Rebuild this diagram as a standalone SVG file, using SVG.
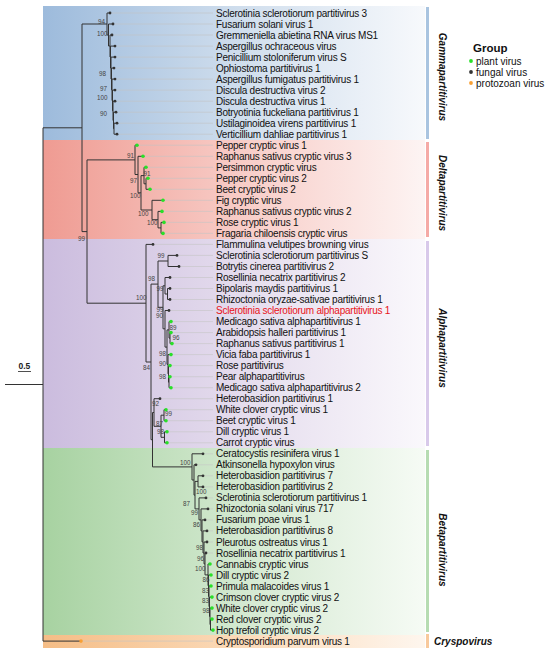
<svg xmlns="http://www.w3.org/2000/svg" width="550" height="652" viewBox="0 0 550 652">
<defs>
<linearGradient id="gGam" x1="0" x2="1" y1="0" y2="0"><stop offset="0" stop-color="#9dbbdc"/><stop offset="0.55" stop-color="#d3e0ee"/><stop offset="1" stop-color="#f7f9fc"/></linearGradient>
<linearGradient id="gDel" x1="0" x2="1" y1="0" y2="0"><stop offset="0" stop-color="#ef9b92"/><stop offset="0.55" stop-color="#f8cfca"/><stop offset="1" stop-color="#fdf4f3"/></linearGradient>
<linearGradient id="gAlp" x1="0" x2="1" y1="0" y2="0"><stop offset="0" stop-color="#cbbcde"/><stop offset="0.55" stop-color="#e6deee"/><stop offset="1" stop-color="#faf8fc"/></linearGradient>
<linearGradient id="gBet" x1="0" x2="1" y1="0" y2="0"><stop offset="0" stop-color="#a7d2a1"/><stop offset="0.55" stop-color="#d6ead3"/><stop offset="1" stop-color="#f6fbf5"/></linearGradient>
<linearGradient id="gCry" x1="0" x2="1" y1="0" y2="0"><stop offset="0" stop-color="#f5bd86"/><stop offset="0.55" stop-color="#fbdcbc"/><stop offset="1" stop-color="#fef6ee"/></linearGradient>
</defs>
<style>
.t{font-family:"Liberation Sans",Arial,sans-serif;font-size:10px;letter-spacing:-0.25px;fill:#111}
.red{fill:#e8141a}
.bs{font-family:"Liberation Sans",Arial,sans-serif;font-size:6.3px;fill:#444}
.br{fill:none;stroke:#333;stroke-width:1}
.ld{fill:none;stroke:#c4c4c4;stroke-width:0.6}
.pl{fill:#29e029}
.fu{fill:#333}
.pr{fill:#f8a035}
.cl{font-family:"Liberation Sans",Arial,sans-serif;font-size:10px;font-weight:bold;font-style:italic;fill:#111}
.lg{font-family:"Liberation Sans",Arial,sans-serif;font-size:10px;fill:#111}
</style>
<rect width="550" height="652" fill="#fff"/>
<g id="bands">
<rect x="43" y="6" width="382" height="134" fill="url(#gGam)"/>
<rect x="43" y="140" width="382" height="99" fill="url(#gDel)"/>
<rect x="43" y="239" width="382" height="209" fill="url(#gAlp)"/>
<rect x="43" y="448" width="382" height="187" fill="url(#gBet)"/>
<rect x="43" y="635" width="382" height="13" fill="url(#gCry)"/>
</g>
<g id="clade-bars">
<rect x="426" y="7" width="3" height="132" fill="#a9c4e0"/>
<rect x="426" y="142" width="3" height="95" fill="#f5aaa6"/>
<rect x="426" y="241" width="3" height="205" fill="#d8c9ea"/>
<rect x="426" y="450" width="3" height="182" fill="#b6dcb2"/>
<rect x="426" y="634" width="3" height="14" fill="#f8c99c"/>
</g>
<g id="clade-labels">
<text class="cl" text-anchor="middle" transform="translate(438.5,77) rotate(90)">Gammapartitivirus</text>
<text class="cl" text-anchor="middle" transform="translate(438.5,193) rotate(90)">Deltapartitivirus</text>
<text class="cl" text-anchor="middle" transform="translate(438.5,348) rotate(90)">Alphapartitivirus</text>
<text class="cl" text-anchor="middle" transform="translate(438.5,550) rotate(90)">Betapartitivirus</text>
<text class="cl" x="434" y="644.6">Cryspovirus</text>
</g>
<g id="connectors">
<path class="ld" d="M111.5,13H213M114.5,24H213M113.5,35H213M116.5,46.1H213M116.5,57.1H213M115.5,68.1H213M116.5,79.1H213M116.5,90.1H213M116.5,101.2H213M117.5,112.2H213M118.5,123.2H213M118.5,134.2H213M138.5,145.2H213M144.5,156.3H213M147.5,167.3H213M149.5,178.3H213M151.5,189.3H213M164.5,200.3H213M163.5,211.4H213M165.5,222.4H213M164.5,233.4H213M154.5,244.4H213M178.5,255.4H213M180.5,266.5H213M171.5,277.5H213M171.5,288.5H213M171.5,299.5H213M170.5,310.5H213M172.5,321.6H213M172.5,332.6H213M173.5,343.6H213M172.5,354.6H213M171.5,365.6H213M171.5,376.7H213M172.5,387.7H213M161.5,398.7H213M167.5,409.7H213M167.5,420.7H213M168.5,431.8H213M168.5,442.8H213M204.5,453.8H213M197.5,464.8H213M204.5,475.8H213M204.5,486.9H213M207.5,497.9H213M209.5,508.9H213M206.5,519.9H213M208.5,530.9H213M208.5,542H213M207.5,553H213M82.5,641.1H213"/>
<path id="root-branches" class="br" d="M5,384.5H43M43,127.8V641.1M43,127.8H82M43,641.1H81M82,24V231.6M82,231.6H87M87,159.9V303.2M87,159.9H135M87,303.2H146"/>
<path id="gamma-branches" class="br" d="M82,24H107M107,13V35M107,13H110M107,35H108.5M108.5,24V46M108.5,24H113M108.5,46H110M110,35V57M110,35H112M110,57H110.5M110.5,46.1V68M110.5,46.1H115M110.5,68H111M111,57.1V79M111,57.1H115M111,79H111.5M111.5,68.1V89.8M111.5,68.1H114M111.5,89.8H112M112,79.1V100.5M112,79.1H115M112,100.5H112.5M112.5,90.1V110.8M112.5,90.1H115M112.5,110.8H113M113,101.2V120.5M113,101.2H115M113,120.5H113.5M113.5,112.2V128.7M113.5,112.2H116M113.5,128.7H114M114,123.2V134.2M114,123.2H117M114,134.2H117"/>
<path id="delta-branches" class="br" d="M135,145.2V174.5M135,145.2H137M135,174.5H138M138,156.3V192.8M138,156.3H143M138,192.8H141M141,175.6V210M141,175.6H144M141,210H152M144,167.3V183.8M144,167.3H146M144,183.8H146M146,178.3V189.3M146,178.3H148M146,189.3H150M152,200.3V219.7M152,200.3H163M152,219.7H158M158,211.4V227.9M158,211.4H162M158,227.9H161M161,222.4V233.4M161,222.4H164M161,233.4H163"/>
<path id="alpha-branches" class="br" d="M146,244.4V362M146,244.4H153M146,362H151M151,284.1V439.7M151,284.1H158M151,439.7H152.5M152.5,412.5V466.9M152.5,412.5H154M152.5,466.9H192M158,261V307.3M158,261H168M158,307.3H163M168,255.4V266.5M168,255.4H177M168,266.5H179M163,285.8V328.8M163,285.8H165M163,328.8H165M165,277.5V294M165,277.5H170M165,294H167.5M167.5,288.5V299.5M167.5,288.5H170M167.5,299.5H170M165,310.5V347.1M165,310.5H169M165,347.1H167M167,329.9V364.3M167,329.9H169M167,364.3H168M169,321.6V338.1M169,321.6H171M169,338.1H170M170,332.6V343.6M170,332.6H171M170,343.6H172M168,354.6V373.9M168,354.6H171M168,373.9H168.5M168.5,365.6V382.2M168.5,365.6H170M168.5,382.2H169M169,376.7V387.7M169,376.7H170M169,387.7H171M154,398.7V426.3M154,398.7H160M154,426.3H161M161,415.2V437.3M161,415.2H164M161,437.3H164.5M164,409.7V420.7M164,409.7H166M164,420.7H166M164.5,431.8V442.8M164.5,431.8H167M164.5,442.8H167"/>
<path id="beta-branches" class="br" d="M192,453.8V480M192,453.8H203M192,480H194M194,464.8V495.1M194,464.8H196M194,495.1H195M195,481.4V508.9M195,481.4H198M195,508.9H199M198,475.8V486.9M198,475.8H203M198,486.9H203M199,497.9V519.9M199,497.9H206M199,519.9H201M201,508.9V530.9M201,508.9H208M201,530.9H202M202,519.9V541.9M202,519.9H205M202,541.9H203M203,530.9V553M203,530.9H207M203,553H204M204,542V563.9M204,542H207M204,563.9H205M205,553V574.9M205,553H206M205,574.9H208M208,564V585.7M208,564H210M208,585.7H208.5M208.5,575V596.4M208.5,575H211M208.5,596.4H209M209,586V606.7M209,586H211M209,606.7H209.5M209.5,597.1V616.4M209.5,597.1H212M209.5,616.4H210M210,608.1V624.6M210,608.1H212M210,624.6H210.5M210.5,619.1V630.1M210.5,619.1H212M210.5,630.1H213"/>
</g>
<g id="bootstrap">
<text class="bs" x="98" y="23.5">94</text>
<text class="bs" x="97" y="35.5">100</text>
<text class="bs" x="99" y="75.5">98</text>
<text class="bs" x="100" y="90.5">97</text>
<text class="bs" x="97" y="99.5">100</text>
<text class="bs" x="100" y="115.5">90</text>
<text class="bs" x="127" y="157.5">91</text>
<text class="bs" x="143.5" y="175.5">91</text>
<text class="bs" x="130" y="182.5">97</text>
<text class="bs" x="130" y="197.5">100</text>
<text class="bs" x="138" y="215.5">100</text>
<text class="bs" x="147" y="224.5">100</text>
<text class="bs" x="78" y="240.5">99</text>
<text class="bs" x="136" y="299.5">100</text>
<text class="bs" x="157.5" y="257.5">99</text>
<text class="bs" x="148" y="281">98</text>
<text class="bs" x="156.5" y="291">99</text>
<text class="bs" x="156.5" y="312">99</text>
<text class="bs" x="156" y="318">90</text>
<text class="bs" x="169.5" y="329.5">89</text>
<text class="bs" x="172.5" y="339.5">96</text>
<text class="bs" x="159" y="355.5">98</text>
<text class="bs" x="159" y="366.3">90</text>
<text class="bs" x="159" y="378.5">98</text>
<text class="bs" x="143" y="369.5">84</text>
<text class="bs" x="152" y="406">92</text>
<text class="bs" x="165" y="416.3">99</text>
<text class="bs" x="156" y="426.3">87</text>
<text class="bs" x="157" y="434.3">98</text>
<text class="bs" x="180" y="465">100</text>
<text class="bs" x="196" y="494">100</text>
<text class="bs" x="183" y="505.6">87</text>
<text class="bs" x="191" y="515">99</text>
<text class="bs" x="193" y="527.3">86</text>
<text class="bs" x="196" y="549.6">98</text>
<text class="bs" x="197" y="560.6">96</text>
<text class="bs" x="195" y="570.6">100</text>
<text class="bs" x="202.5" y="582.3">86</text>
<text class="bs" x="202" y="593">83</text>
<text class="bs" x="202" y="603.3">83</text>
<text class="bs" x="202.5" y="613">98</text>
</g>
<g id="leaves">
<g id="n0"><circle class="fu" cx="110" cy="13" r="1.4"/><text class="t" x="216" y="16.5">Sclerotinia sclerotiorum partitivirus 3</text></g>
<g id="n1"><circle class="fu" cx="113" cy="24" r="1.4"/><text class="t" x="216" y="27.5">Fusarium solani virus 1</text></g>
<g id="n2"><circle class="fu" cx="112" cy="35" r="1.4"/><text class="t" x="216" y="38.5">Gremmeniella abietina RNA virus MS1</text></g>
<g id="n3"><circle class="fu" cx="115" cy="46.1" r="1.4"/><text class="t" x="216" y="49.6">Aspergillus ochraceous virus</text></g>
<g id="n4"><circle class="fu" cx="115" cy="57.1" r="1.4"/><text class="t" x="216" y="60.6">Penicillium stoloniferum virus S</text></g>
<g id="n5"><circle class="fu" cx="114" cy="68.1" r="1.4"/><text class="t" x="216" y="71.6">Ophiostoma partitivirus 1</text></g>
<g id="n6"><circle class="fu" cx="115" cy="79.1" r="1.4"/><text class="t" x="216" y="82.6">Aspergillus fumigatus partitivirus 1</text></g>
<g id="n7"><circle class="fu" cx="115" cy="90.1" r="1.4"/><text class="t" x="216" y="93.6">Discula destructiva virus 2</text></g>
<g id="n8"><circle class="fu" cx="115" cy="101.2" r="1.4"/><text class="t" x="216" y="104.7">Discula destructiva virus 1</text></g>
<g id="n9"><circle class="fu" cx="116" cy="112.2" r="1.4"/><text class="t" x="216" y="115.7">Botryotinia fuckeliana partitivirus 1</text></g>
<g id="n10"><circle class="fu" cx="117" cy="123.2" r="1.4"/><text class="t" x="216" y="126.7">Ustilaginoidea virens partitivirus 1</text></g>
<g id="n11"><circle class="fu" cx="117" cy="134.2" r="1.4"/><text class="t" x="216" y="137.7">Verticillium dahliae partitivirus 1</text></g>
<g id="n12"><circle class="pl" cx="137" cy="145.2" r="1.8"/><text class="t" x="216" y="148.7">Pepper cryptic virus 1</text></g>
<g id="n13"><circle class="pl" cx="143" cy="156.3" r="1.8"/><text class="t" x="216" y="159.8">Raphanus sativus cryptic virus 3</text></g>
<g id="n14"><circle class="pl" cx="146" cy="167.3" r="1.8"/><text class="t" x="216" y="170.8">Persimmon cryptic virus</text></g>
<g id="n15"><circle class="pl" cx="148" cy="178.3" r="1.8"/><text class="t" x="216" y="181.8">Pepper cryptic virus 2</text></g>
<g id="n16"><circle class="pl" cx="150" cy="189.3" r="1.8"/><text class="t" x="216" y="192.8">Beet cryptic virus 2</text></g>
<g id="n17"><circle class="pl" cx="163" cy="200.3" r="1.8"/><text class="t" x="216" y="203.8">Fig cryptic virus</text></g>
<g id="n18"><circle class="pl" cx="162" cy="211.4" r="1.8"/><text class="t" x="216" y="214.9">Raphanus sativus cryptic virus 2</text></g>
<g id="n19"><circle class="pl" cx="164" cy="222.4" r="1.8"/><text class="t" x="216" y="225.9">Rose cryptic virus 1</text></g>
<g id="n20"><circle class="pl" cx="163" cy="233.4" r="1.8"/><text class="t" x="216" y="236.9">Fragaria chiloensis cryptic virus</text></g>
<g id="n21"><circle class="fu" cx="153" cy="244.4" r="1.4"/><text class="t" x="216" y="247.9">Flammulina velutipes browning virus</text></g>
<g id="n22"><circle class="fu" cx="177" cy="255.4" r="1.4"/><text class="t" x="216" y="258.9">Sclerotinia sclerotiorum partitivirus S</text></g>
<g id="n23"><circle class="fu" cx="179" cy="266.5" r="1.4"/><text class="t" x="216" y="270">Botrytis cinerea partitivirus 2</text></g>
<g id="n24"><circle class="fu" cx="170" cy="277.5" r="1.4"/><text class="t" x="216" y="281">Rosellinia necatrix partitivirus 2</text></g>
<g id="n25"><circle class="fu" cx="170" cy="288.5" r="1.4"/><text class="t" x="216" y="292">Bipolaris maydis partitivirus 1</text></g>
<g id="n26"><circle class="fu" cx="170" cy="299.5" r="1.4"/><text class="t" x="216" y="303">Rhizoctonia oryzae-sativae partitivirus 1</text></g>
<g id="n27"><circle class="fu" cx="169" cy="310.5" r="1.4"/><text class="t red" x="216" y="314">Sclerotinia sclerotiorum alphapartitivirus 1</text></g>
<g id="n28"><circle class="pl" cx="171" cy="321.6" r="1.8"/><text class="t" x="216" y="325.1">Medicago sativa alphapartitivirus 1</text></g>
<g id="n29"><circle class="pl" cx="171" cy="332.6" r="1.8"/><text class="t" x="216" y="336.1">Arabidopsis halleri partitivirus 1</text></g>
<g id="n30"><circle class="pl" cx="172" cy="343.6" r="1.8"/><text class="t" x="216" y="347.1">Raphanus sativus partitivirus 1</text></g>
<g id="n31"><circle class="pl" cx="171" cy="354.6" r="1.8"/><text class="t" x="216" y="358.1">Vicia faba partitivirus 1</text></g>
<g id="n32"><circle class="pl" cx="170" cy="365.6" r="1.8"/><text class="t" x="216" y="369.1">Rose partitivirus</text></g>
<g id="n33"><circle class="pl" cx="170" cy="376.7" r="1.8"/><text class="t" x="216" y="380.2">Pear alphapartitivirus</text></g>
<g id="n34"><circle class="pl" cx="171" cy="387.7" r="1.8"/><text class="t" x="216" y="391.2">Medicago sativa alphapartitivirus 2</text></g>
<g id="n35"><circle class="fu" cx="160" cy="398.7" r="1.4"/><text class="t" x="216" y="402.2">Heterobasidion partitivirus 1</text></g>
<g id="n36"><circle class="pl" cx="166" cy="409.7" r="1.8"/><text class="t" x="216" y="413.2">White clover cryptic virus 1</text></g>
<g id="n37"><circle class="pl" cx="166" cy="420.7" r="1.8"/><text class="t" x="216" y="424.2">Beet cryptic virus 1</text></g>
<g id="n38"><circle class="pl" cx="167" cy="431.8" r="1.8"/><text class="t" x="216" y="435.3">Dill cryptic virus 1</text></g>
<g id="n39"><circle class="pl" cx="167" cy="442.8" r="1.8"/><text class="t" x="216" y="446.3">Carrot cryptic virus</text></g>
<g id="n40"><circle class="fu" cx="203" cy="453.8" r="1.4"/><text class="t" x="216" y="457.3">Ceratocystis resinifera virus 1</text></g>
<g id="n41"><circle class="fu" cx="196" cy="464.8" r="1.4"/><text class="t" x="216" y="468.3">Atkinsonella hypoxylon virus</text></g>
<g id="n42"><circle class="fu" cx="203" cy="475.8" r="1.4"/><text class="t" x="216" y="479.3">Heterobasidion partitivirus 7</text></g>
<g id="n43"><circle class="fu" cx="203" cy="486.9" r="1.4"/><text class="t" x="216" y="490.4">Heterobasidion partitivirus 2</text></g>
<g id="n44"><circle class="fu" cx="206" cy="497.9" r="1.4"/><text class="t" x="216" y="501.4">Sclerotinia sclerotiorum partitivirus 1</text></g>
<g id="n45"><circle class="fu" cx="208" cy="508.9" r="1.4"/><text class="t" x="216" y="512.4">Rhizoctonia solani virus 717</text></g>
<g id="n46"><circle class="fu" cx="205" cy="519.9" r="1.4"/><text class="t" x="216" y="523.4">Fusarium poae virus 1</text></g>
<g id="n47"><circle class="fu" cx="207" cy="530.9" r="1.4"/><text class="t" x="216" y="534.4">Heterobasidion partitivirus 8</text></g>
<g id="n48"><circle class="fu" cx="207" cy="542" r="1.4"/><text class="t" x="216" y="545.5">Pleurotus ostreatus virus 1</text></g>
<g id="n49"><circle class="fu" cx="206" cy="553" r="1.4"/><text class="t" x="216" y="556.5">Rosellinia necatrix partitivirus 1</text></g>
<g id="n50"><circle class="pl" cx="210" cy="564" r="1.8"/><text class="t" x="216" y="567.5">Cannabis cryptic virus</text></g>
<g id="n51"><circle class="pl" cx="211" cy="575" r="1.8"/><text class="t" x="216" y="578.5">Dill cryptic virus 2</text></g>
<g id="n52"><circle class="pl" cx="211" cy="586" r="1.8"/><text class="t" x="216" y="589.5">Primula malacoides virus 1</text></g>
<g id="n53"><circle class="pl" cx="212" cy="597.1" r="1.8"/><text class="t" x="216" y="600.6">Crimson clover cryptic virus 2</text></g>
<g id="n54"><circle class="pl" cx="212" cy="608.1" r="1.8"/><text class="t" x="216" y="611.6">White clover cryptic virus 2</text></g>
<g id="n55"><circle class="pl" cx="212" cy="619.1" r="1.8"/><text class="t" x="216" y="622.6">Red clover cryptic virus 2</text></g>
<g id="n56"><circle class="pl" cx="213" cy="630.1" r="1.8"/><text class="t" x="216" y="633.6">Hop trefoil cryptic virus 2</text></g>
<g id="n57"><circle class="pr" cx="81" cy="641.1" r="1.8"/><text class="t" x="216" y="644.6">Cryptosporidium parvum virus 1</text></g>
</g>
<g id="scale">
<text x="18.5" y="369" font-family="Liberation Sans, Arial, sans-serif" font-size="8.5" font-weight="bold" fill="#222">0.5</text>
<line x1="18" y1="371.5" x2="31" y2="371.5" stroke="#222" stroke-width="0.8"/>
</g>
<g id="legend">
<text x="473" y="51.5" font-family="Liberation Sans, Arial, sans-serif" font-size="11.5" font-weight="bold" fill="#111">Group</text>
<circle class="pl" cx="471" cy="61" r="1.9"/><text class="lg" x="476" y="64.5">plant virus</text>
<circle class="fu" cx="471" cy="72" r="1.9"/><text class="lg" x="476" y="75.5">fungal virus</text>
<circle class="pr" cx="471" cy="83" r="1.9"/><text class="lg" x="476" y="86.5">protozoan virus</text>
</g>
</svg>
